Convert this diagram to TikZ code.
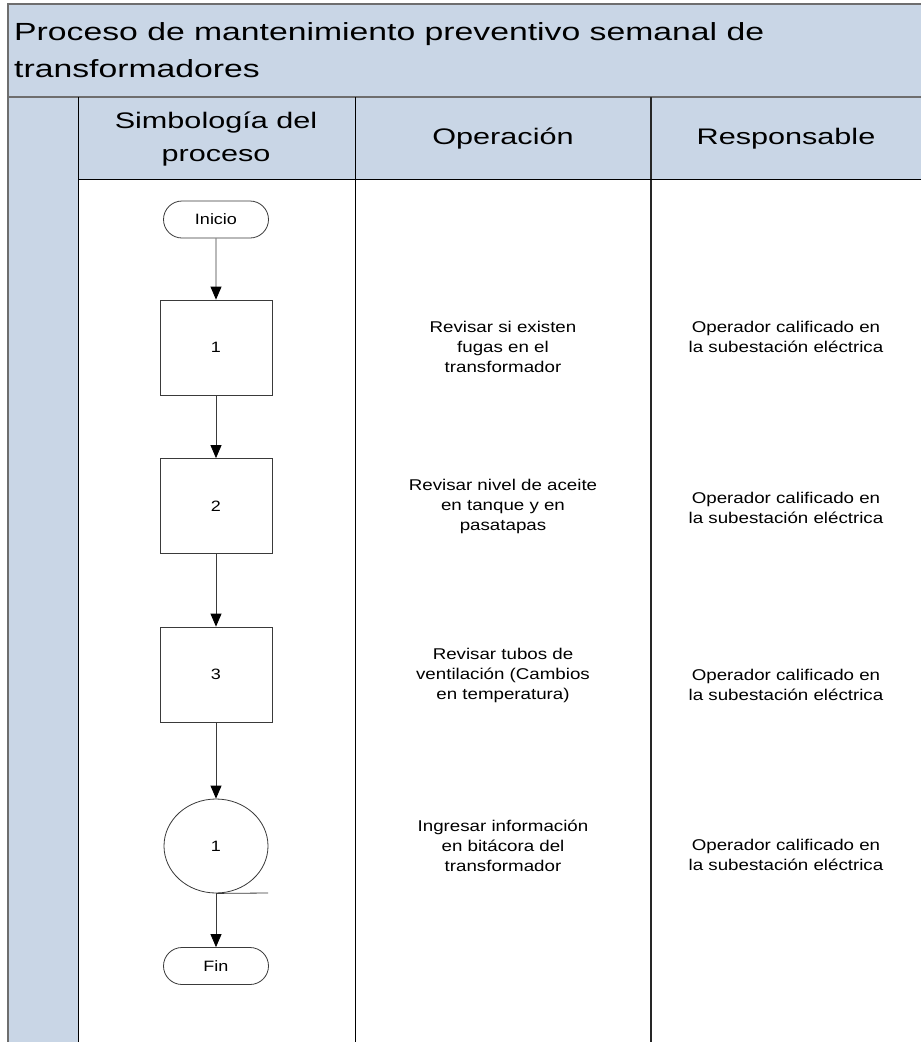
\documentclass[tikz,border=0pt]{standalone}
\usepackage{fontspec}
\setmainfont{Liberation Sans}[FakeStretch=1.2]
\newfontfamily\widefont{Liberation Sans}[FakeStretch=1.36]
\usetikzlibrary{shapes.misc,shapes.geometric,arrows.meta}
\definecolor{laneblue}{HTML}{C9D6E6}
\definecolor{framegrey}{HTML}{6E6E6E}
\definecolor{flowline}{HTML}{3A3A3A}
\tikzset{
  terminal/.style={draw=flowline, line width=0.8pt, rounded rectangle, fill=white,
    minimum width=105pt, minimum height=37pt, inner sep=0pt,
    font=\fontsize{15}{18}\selectfont},
  stepbox/.style={draw=flowline, line width=0.8pt, rectangle, fill=white,
    minimum width=112pt, minimum height=95pt, inner sep=0pt,
    font=\fontsize{15}{18}\selectfont},
  storecircle/.style={draw=flowline, line width=0.8pt, ellipse, fill=white,
    minimum width=104pt, minimum height=94pt, inner sep=0pt,
    font=\fontsize{15}{18}\selectfont},
  flowarrow/.style={draw=flowline, line width=0.8pt,
    -{Triangle[length=13pt,width=11pt,color=black]}},
  celltext/.style={align=center, inner sep=0pt,
    font=\fontsize{15.6}{20}\selectfont},
  headtext/.style={align=center, inner sep=0pt,
    font=\widefont\fontsize{22.5}{33}\selectfont},
}
\begin{document}
\begin{tikzpicture}[x=1pt,y=-1pt]
  \useasboundingbox (0,0) rectangle (921,1042);
  \fill[white] (0,0) rectangle (921,1042);

  % title band, header row and left lane strip
  \fill[laneblue] (7.5,4) rectangle (921,179);
  \fill[laneblue] (7.5,179) rectangle (78,1042);

  % frame lines
  \draw[framegrey, line width=2pt] (921,4) -- (7.5,4) -- (7.5,1042);
  \draw[framegrey, line width=2.2pt] (7.5,97) -- (921,97);
  \draw[black, line width=1pt] (78,97) -- (78,1042);
  \draw[black, line width=0.8pt] (355,97) -- (355,1042);
  \draw[black!85, line width=1.8pt] (651,97) -- (651,1042);
  \draw[black, line width=1pt] (78,179) -- (921,179);

  % title (anchored on the baseline of its second line)
  \node[anchor=base west, align=left, inner sep=0pt,
        font=\widefont\fontsize{24.8}{36.3}\selectfont] (title) at (14,77)
    {Proceso de mantenimiento preventivo semanal de\\transformadores};

  % column headings
  \node[headtext] (hsym) at (216,139) {Simbología del\\proceso};
  \node[headtext] (hop) at (503,139) {Operación};
  \node[headtext] (hresp) at (786,139) {Responsable};

  % flow symbols
  \node[terminal] (start) at (216,219.5) {Inicio};
  \node[stepbox] (op1) at (216,347.5) {1};
  \node[stepbox] (op2) at (216,506) {2};
  \node[stepbox] (op3) at (216,674.5) {3};
  \node[storecircle] (rec) at (216,846) {1};
  \node[terminal] (stop) at (216,966) {Fin};
  \coordinate (tail) at (268,893);

  \draw[flowarrow] (start) -- (op1);
  \draw[flowarrow] (op1) -- (op2);
  \draw[flowarrow] (op2) -- (op3);
  \draw[flowarrow] (op3) -- (rec);
  \draw[flowarrow] (rec) -- (stop);
  \draw[flowline, line width=0.8pt] (rec.south) -- (tail);

  % operations
  \node[celltext] (t1) at (503,347) {Revisar si existen\\fugas en el\\transformador};
  \node[celltext] (t2) at (503,506) {Revisar nivel de aceite\\en tanque y en\\pasatapas};
  \node[celltext] (t3) at (503,675) {Revisar tubos de\\ventilación (Cambios\\en temperatura)};
  \node[celltext] (t4) at (503,846) {Ingresar información\\en bitácora del\\transformador};

  % responsible
  \node[celltext] (r1) at (786,337) {Operador calificado en\\la subestación eléctrica};
  \node[celltext] (r2) at (786,508) {Operador calificado en\\la subestación eléctrica};
  \node[celltext] (r3) at (786,685) {Operador calificado en\\la subestación eléctrica};
  \node[celltext] (r4) at (786,855) {Operador calificado en\\la subestación eléctrica};
\end{tikzpicture}
\end{document}
